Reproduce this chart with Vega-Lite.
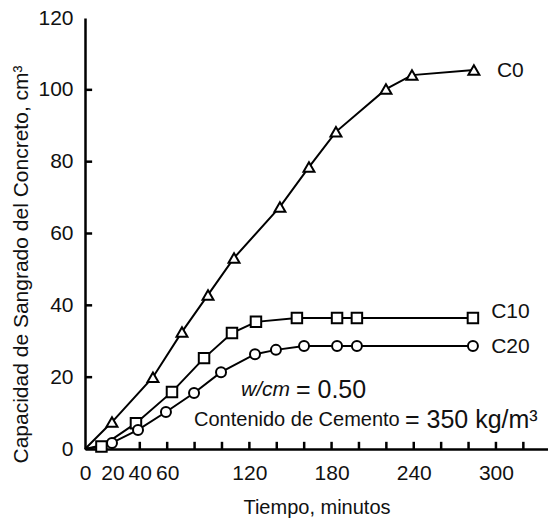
{
  "$schema": "https://vega.github.io/schema/vega-lite/v6.json",
  "width": 463,
  "height": 431,
  "autosize": {"type": "none"},
  "padding": {"left": 85, "top": 18, "right": 0, "bottom": 72},
  "background": "white",
  "config": {
    "view": {"stroke": null},
    "axis": {"domainColor": "black", "domainWidth": 2.5, "labelColor": "#111", "titleColor": "#111", "grid": false}
  },
  "datasets": {
    "series": [
      {"series": "C0", "t": 0, "v": 0},
      {"series": "C0", "t": 19.7, "v": 7.5},
      {"series": "C0", "t": 49.6, "v": 20.0},
      {"series": "C0", "t": 70.8, "v": 32.6},
      {"series": "C0", "t": 89.8, "v": 42.9},
      {"series": "C0", "t": 108.8, "v": 53.2},
      {"series": "C0", "t": 142.3, "v": 67.4},
      {"series": "C0", "t": 163.5, "v": 78.5},
      {"series": "C0", "t": 183.2, "v": 88.3},
      {"series": "C0", "t": 219.7, "v": 100.2},
      {"series": "C0", "t": 238.7, "v": 104.1},
      {"series": "C0", "t": 283.9, "v": 105.5},
      {"series": "C10", "t": 0, "v": 0},
      {"series": "C10", "t": 12, "v": 0.7},
      {"series": "C10", "t": 37.2, "v": 7.2},
      {"series": "C10", "t": 63.5, "v": 15.9},
      {"series": "C10", "t": 86.9, "v": 25.3},
      {"series": "C10", "t": 107.3, "v": 32.3},
      {"series": "C10", "t": 124.8, "v": 35.4},
      {"series": "C10", "t": 154.7, "v": 36.5},
      {"series": "C10", "t": 184, "v": 36.5},
      {"series": "C10", "t": 198.5, "v": 36.5},
      {"series": "C10", "t": 283.2, "v": 36.5},
      {"series": "C20", "t": 0, "v": 0},
      {"series": "C20", "t": 19.7, "v": 1.7},
      {"series": "C20", "t": 38.7, "v": 5.3},
      {"series": "C20", "t": 59.1, "v": 10.3},
      {"series": "C20", "t": 79.6, "v": 15.6},
      {"series": "C20", "t": 99.3, "v": 21.4},
      {"series": "C20", "t": 124.1, "v": 26.4},
      {"series": "C20", "t": 139.4, "v": 27.6},
      {"series": "C20", "t": 159.9, "v": 28.7},
      {"series": "C20", "t": 184, "v": 28.7},
      {"series": "C20", "t": 198.5, "v": 28.7},
      {"series": "C20", "t": 283.2, "v": 28.7}
    ],
    "xticks": [
      {"t": 20}, {"t": 40}, {"t": 60}, {"t": 80}, {"t": 100}, {"t": 120}, {"t": 140}, {"t": 160},
      {"t": 180}, {"t": 200}, {"t": 220}, {"t": 240}, {"t": 260}, {"t": 280}, {"t": 300}, {"t": 320}
    ],
    "yticks": [
      {"v": 20}, {"v": 40}, {"v": 60}, {"v": 80}, {"v": 100}
    ]
  },
  "layer": [
    {
      "data": {"name": "series"},
      "mark": {"type": "line", "color": "black", "strokeWidth": 2},
      "encoding": {
        "x": {
          "field": "t", "type": "quantitative",
          "scale": {"domain": [0, 338], "nice": false},
          "axis": {
            "values": [0, 20, 40, 60, 120, 180, 240, 300],
            "ticks": false,
            "labelPadding": 13,
            "labelFont": "Liberation Sans",
            "labelFontSize": 21,
            "labelFlush": false,
            "labelOverlap": false,
            "labelBound": false,
            "title": "Tiempo, minutos",
            "titleFont": "Liberation Sans",
            "titleFontSize": 20,
            "titleFontWeight": "normal",
            "titleY": 64,
            "titleBaseline": "alphabetic"
          }
        },
        "y": {
          "field": "v", "type": "quantitative",
          "scale": {"domain": [0, 120], "nice": false},
          "axis": {
            "values": [0, 20, 40, 60, 80, 100, 120],
            "ticks": false,
            "labelPadding": 12,
            "labelFont": "Liberation Sans",
            "labelFontSize": 21,
            "labelFlush": false,
            "labelOverlap": false,
            "title": "Capacidad de Sangrado del Concreto, cm³",
            "titleFont": "Liberation Sans",
            "titleFontSize": 21,
            "titleFontWeight": "normal",
            "titleX": -58,
            "titleY": 246,
            "titleBaseline": "alphabetic",
            "titleAlign": "center"
          }
        },
        "detail": {"field": "series"}
      }
    },
    {
      "data": {"name": "xticks"},
      "mark": {"type": "rule", "color": "black", "strokeWidth": 2.5},
      "encoding": {
        "x": {"field": "t", "type": "quantitative"},
        "y": {"datum": 0},
        "y2": {"datum": 2}
      }
    },
    {
      "data": {"name": "yticks"},
      "mark": {"type": "rule", "color": "black", "strokeWidth": 2.5},
      "encoding": {
        "y": {"field": "v", "type": "quantitative"},
        "x": {"datum": 0},
        "x2": {"datum": 5.2}
      }
    },
    {
      "data": {"name": "series"},
      "transform": [{"filter": "datum.t > 0"}],
      "mark": {"type": "point", "filled": true, "fill": "white", "stroke": "black", "strokeWidth": 2, "opacity": 1},
      "encoding": {
        "x": {"field": "t", "type": "quantitative"},
        "y": {"field": "v", "type": "quantitative"},
        "shape": {"field": "series", "type": "nominal", "scale": {"domain": ["C0", "C10", "C20"], "range": ["triangle-up", "square", "circle"]}, "legend": null},
        "size": {"field": "series", "type": "nominal", "scale": {"domain": ["C0", "C10", "C20"], "range": [120, 100, 90]}, "legend": null}
      }
    },
    {
      "mark": {"type": "rule", "color": "black", "strokeWidth": 2.5},
      "encoding": {"y": {"datum": 120}}
    },
    {
      "data": {"values": [
        {"label": "C0", "t": 300.7, "v": 105.2},
        {"label": "C10", "t": 296.5, "v": 38.1},
        {"label": "C20", "t": 296.5, "v": 28.3}
      ]},
      "mark": {"type": "text", "align": "left", "baseline": "middle", "font": "Liberation Sans", "fontSize": 21, "color": "#111"},
      "encoding": {
        "x": {"field": "t", "type": "quantitative"},
        "y": {"field": "v", "type": "quantitative"},
        "text": {"field": "label"}
      }
    },
    {
      "data": {"values": [{"label": "w/cm", "t": 113.9, "v": 16.4}]},
      "mark": {"type": "text", "align": "left", "baseline": "middle", "font": "Liberation Sans", "fontStyle": "italic", "fontSize": 21, "color": "#111"},
      "encoding": {
        "x": {"field": "t", "type": "quantitative"},
        "y": {"field": "v", "type": "quantitative"},
        "text": {"field": "label"}
      }
    },
    {
      "data": {"values": [
        {"label": "= 0.50", "t": 154.0, "v": 16.4},
        {"label": "= 350 kg/m³", "t": 233.6, "v": 8.1}
      ]},
      "mark": {"type": "text", "align": "left", "baseline": "middle", "font": "Liberation Sans", "fontSize": 25, "color": "#111"},
      "encoding": {
        "x": {"field": "t", "type": "quantitative"},
        "y": {"field": "v", "type": "quantitative"},
        "text": {"field": "label"}
      }
    },
    {
      "data": {"values": [{"label": "Contenido de Cemento", "t": 79.6, "v": 8.1}]},
      "mark": {"type": "text", "align": "left", "baseline": "middle", "font": "Liberation Sans", "fontSize": 20, "color": "#111"},
      "encoding": {
        "x": {"field": "t", "type": "quantitative"},
        "y": {"field": "v", "type": "quantitative"},
        "text": {"field": "label"}
      }
    }
  ]
}
